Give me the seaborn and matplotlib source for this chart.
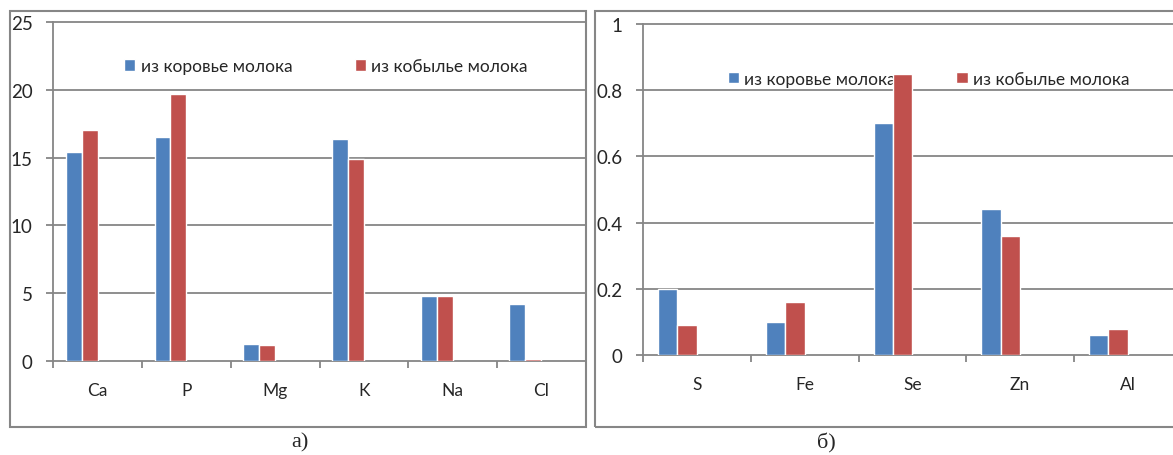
import matplotlib
matplotlib.use('Agg')
import matplotlib.pyplot as plt
from matplotlib.patches import Rectangle, Patch
import pandas as pd
import seaborn as sns

# данные
elem_a = ['Ca', 'P', 'Mg', 'K', 'Na', 'Cl']
cow_a = [15.4, 16.5, 1.25, 16.4, 4.8, 4.2]
mare_a = [17.0, 19.7, 1.15, 14.9, 4.8, 0.15]

elem_b = ['S', 'Fe', 'Se', 'Zn', 'Al']
cow_b = [0.20, 0.10, 0.70, 0.44, 0.06]
mare_b = [0.09, 0.16, 0.85, 0.36, 0.08]

ser_cow = 'из коровье молока'
ser_mare = 'из кобылье молока'
yticks_a = [0, 5, 10, 15, 20, 25]
yticks_b = [0, 0.2, 0.4, 0.6, 0.8, 1]
ytlabels_b = ['0', '0.2', '0.4', '0.6', '0.8', '1']

BLUE = '#4F81BD'
RED = '#C0504D'
GRID = '#868686'

sns.set_style('white')
plt.rcParams['font.family'] = ['Lato', 'DejaVu Sans']

W, H = 1173, 456
fig = plt.figure(figsize=(W / 100, H / 100), dpi=100)


def fx(px):
    return px / W


def fy(py):
    return 1 - py / H


def make_df(elems, cow, mare):
    return pd.DataFrame({
        'elem': elems * 2,
        'series': [ser_cow] * len(elems) + [ser_mare] * len(elems),
        'value': cow + mare,
    })


def panel(rect, elems, cow, mare, ymax, yticks, ylabels, leg_xy, colsp):
    ax = fig.add_axes(rect)
    df = make_df(elems, cow, mare)
    # две пустые серии, как в исходной диаграмме Excel
    sns.barplot(data=df, x='elem', y='value', hue='series',
                hue_order=[ser_cow, ser_mare, '_e1', '_e2'],
                palette=[BLUE, RED, 'white', 'white'], saturation=1,
                width=0.72, legend=False, ax=ax, zorder=3)
    ax.set_xlim(-0.5, len(elems) - 0.5)
    ax.set_ylim(0, ymax)
    ax.set_yticks(yticks)
    ax.set_yticklabels(ylabels)
    ax.set_xlabel('')
    ax.set_ylabel('')
    ax.grid(False)
    for y in yticks[1:]:
        ax.axhline(y, color=GRID, lw=1.3, zorder=1, clip_on=False)
    for s in ['top', 'right']:
        ax.spines[s].set_visible(False)
    for s in ['left', 'bottom']:
        ax.spines[s].set_color(GRID)
        ax.spines[s].set_linewidth(1.3)
    ax.set_xticks([i - 0.5 for i in range(len(elems) + 1)], minor=True)
    ax.tick_params(axis='x', which='major', length=0, pad=15, labelsize=12.5)
    ax.tick_params(axis='x', which='minor', length=5, width=1.3,
                   color=GRID, direction='out', bottom=True)
    ax.tick_params(axis='y', length=5, width=1.3, color=GRID,
                   direction='out', left=True, pad=10, labelsize=13.5)
    handles = [Patch(facecolor=BLUE), Patch(facecolor=RED)]
    leg = ax.legend(handles, [ser_cow, ser_mare], ncol=2, frameon=False,
                    loc='center', bbox_to_anchor=leg_xy, fontsize=12.5,
                    handlelength=0.65, handleheight=0.65, handletextpad=0.3,
                    columnspacing=colsp)
    leg.set_zorder(2)
    return ax


# левая диаграмма (а)
axa = panel([fx(53.4), fy(362), fx(532.2), (362 - 23) / H],
            elem_a, cow_a, mare_a, 25, yticks_a,
            [str(v) for v in yticks_a], (0.512, 0.870), 3.6)
# правая диаграмма (б), выходит за край рисунка
axb = panel([fx(643), fy(356), fx(538.75), (356 - 25) / H],
            elem_b, cow_b, mare_b, 1, yticks_b, ytlabels_b, (0.53, 0.835),
            3.5)

# рамки
fig.patches.append(Rectangle((fx(10), fy(428)), fx(576), (428 - 12) / H,
                             transform=fig.transFigure, fill=False,
                             edgecolor=GRID, lw=1.5))
fig.patches.append(Rectangle((fx(595), fy(428)), fx(600), (428 - 12) / H,
                             transform=fig.transFigure, fill=False,
                             edgecolor=GRID, lw=1.5))

fig.text(fx(300), fy(443), 'а)', ha='center', va='center',
         family='Liberation Serif', fontsize=16)
fig.text(fx(826), fy(443), 'б)', ha='center', va='center',
         family='Liberation Serif', fontsize=16)

fig.savefig('out.png', dpi=100)
